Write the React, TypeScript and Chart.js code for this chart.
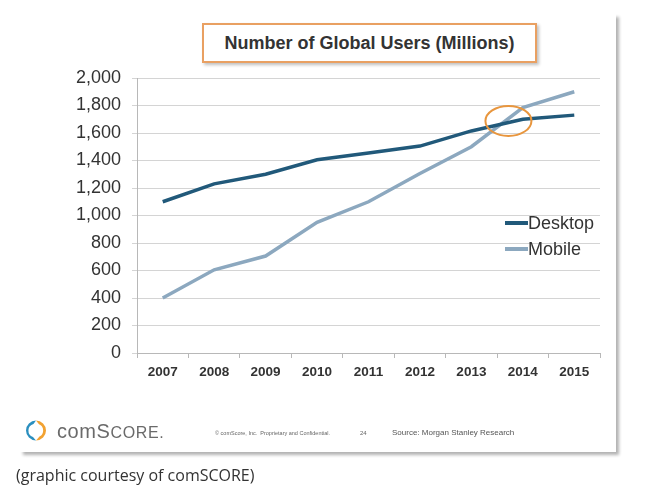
import React, { useEffect, useRef } from 'react';
import { Chart, registerables } from 'chart.js';

Chart.register(...registerables);

// ---- data ----
const categories = ['2007', '2008', '2009', '2010', '2011', '2012', '2013', '2014', '2015'];
const desktopUsers = [1100, 1230, 1300, 1405, 1455, 1505, 1615, 1700, 1730];
const mobileUsers = [400, 605, 705, 950, 1100, 1305, 1500, 1785, 1900];
const seriesNames = ['Desktop', 'Mobile'];
const seriesColors = ['#21597a', '#8ca8bf'];
const yMin = 0;
const yMax = 2000;
const yStep = 200;
const chartTitle = 'Number of Global Users (Millions)';
const highlightIndex = 6.72;
const highlightValue = 1688;
const footerCopyright = '© comScore, Inc.  Proprietary and Confidential.';
const footerPage = '24';
const footerSource = 'Source: Morgan Stanley Research';
const caption = '(graphic courtesy of comSCORE)';

const FONT = '"Liberation Sans", Arial, Helvetica, sans-serif';

const highlightPlugin = {
  id: 'highlightEllipse',
  afterDatasetsDraw(chart: any) {
    const xs = chart.scales.x;
    const ys = chart.scales.y;
    const cx = xs.getPixelForValue(highlightIndex);
    const cy = ys.getPixelForValue(highlightValue);
    const ctx = chart.ctx;
    ctx.save();
    ctx.beginPath();
    ctx.ellipse(cx, cy, 23, 15, 0, 0, Math.PI * 2);
    ctx.strokeStyle = '#e8963e';
    ctx.lineWidth = 2;
    ctx.stroke();
    ctx.restore();
  },
};

function ChartCanvas() {
  const ref = useRef<HTMLCanvasElement | null>(null);
  useEffect(() => {
    if (!ref.current) return;
    const chart = new Chart(ref.current, {
      type: 'line',
      data: {
        labels: categories,
        datasets: [
          {
            label: seriesNames[0],
            data: desktopUsers,
            borderColor: seriesColors[0],
            backgroundColor: seriesColors[0],
            borderWidth: 3.5,
            pointRadius: 0,
            tension: 0,
          },
          {
            label: seriesNames[1],
            data: mobileUsers,
            borderColor: seriesColors[1],
            backgroundColor: seriesColors[1],
            borderWidth: 3.5,
            pointRadius: 0,
            tension: 0,
          },
        ],
      },
      options: {
        responsive: false,
        animation: false,
        devicePixelRatio: 1,
        layout: { padding: { top: 78, right: 61, bottom: 107, left: 0 } },
        plugins: {
          legend: { display: false },
          title: { display: false },
          tooltip: { enabled: false },
        },
        scales: {
          x: {
            type: 'category',
            offset: true,
            grid: {
              offset: true,
              drawOnChartArea: false,
              drawTicks: true,
              tickLength: 5,
              color: '#b8b8b8',
            },
            border: { display: true, color: '#b8b8b8' },
            ticks: {
              color: '#333333',
              font: { family: FONT, size: 13.5, weight: 'bold' },
              padding: 6,
              maxRotation: 0,
              autoSkip: false,
            },
            afterFit: (s: any) => {
              s.height = 40;
            },
          },
          y: {
            min: yMin,
            max: yMax,
            ticks: {
              stepSize: yStep,
              color: '#333333',
              font: { family: FONT, size: 18 },
              padding: 11,
              callback: (v: any) => Number(v).toLocaleString('en-US'),
            },
            grid: { color: '#d4d4d4', tickLength: 5, drawTicks: true },
            border: { display: true, color: '#b8b8b8' },
            afterFit: (s: any) => {
              s.width = 137;
            },
          },
        },
      } as any,
      plugins: [highlightPlugin],
    });
    return () => chart.destroy();
  }, []);
  return (
    <canvas
      ref={ref}
      width={661}
      height={500}
      style={{ position: 'absolute', left: 0, top: 0, width: 661, height: 500 }}
    />
  );
}

export default function App() {
  return (
    <div
      style={{
        position: 'relative',
        width: 661,
        height: 500,
        overflow: 'hidden',
        background: '#ffffff',
        fontFamily: FONT,
      }}
    >
      <style>{'body{margin:0;}'}</style>
      {/* slide card */}
      <div
        style={{
          position: 'absolute',
          left: 20,
          top: 14,
          width: 596,
          height: 438,
          background: '#ffffff',
          boxShadow: '3px 3px 3px rgba(0,0,0,0.30)',
        }}
      />
      {/* title box */}
      <div
        style={{
          position: 'absolute',
          left: 202,
          top: 23,
          width: 335,
          height: 40,
          boxSizing: 'border-box',
          border: '2px solid #e9a062',
          background: '#ffffff',
          boxShadow: '2px 2px 3px rgba(0,0,0,0.25)',
          textAlign: 'center',
          lineHeight: '36px',
          fontSize: 18,
          fontWeight: 'bold',
          color: '#333333',
        }}
      >
        {chartTitle}
      </div>
      <ChartCanvas />
      {/* legend */}
      {seriesNames.map((name, i) => (
        <div
          key={name}
          style={{
            position: 'absolute',
            left: 505,
            top: 212 + i * 26,
            height: 22,
            display: 'flex',
            alignItems: 'center',
          }}
        >
          <span
            style={{
              display: 'inline-block',
              width: 23,
              height: 4,
              background: seriesColors[i],
            }}
          />
          <span style={{ fontSize: 18, color: '#333333', lineHeight: '22px' }}>{name}</span>
        </div>
      ))}
      {/* footer logo */}
      <svg
        style={{ position: 'absolute', left: 24, top: 419 }}
        width={25}
        height={23}
        viewBox="0 0 25 23"
      >
        <path d="M12 1.5 A10 10 0 0 0 12 21.5 L9 18 A6.8 6.8 0 0 1 9.5 5 Z" fill="#2b8fbf" />
        <path d="M12 1.5 A10 10 0 0 1 12 21.5 L15.5 17.5 A6.8 6.8 0 0 0 15 5.2 Z" fill="#f2a231" />
      </svg>
      <div
        style={{
          position: 'absolute',
          left: 57,
          top: 419,
          color: '#6a6a6a',
          fontSize: 20,
          letterSpacing: 0.6,
          lineHeight: '24px',
          whiteSpace: 'nowrap',
        }}
      >
        com<span style={{ fontSize: 20 }}>S</span>
        <span style={{ fontSize: 16 }}>CORE.</span>
      </div>
      <div
        style={{
          position: 'absolute',
          left: 215,
          top: 429,
          fontSize: 5.5,
          color: '#666666',
          whiteSpace: 'pre',
          lineHeight: '8px',
        }}
      >
        {footerCopyright}
      </div>
      <div
        style={{
          position: 'absolute',
          left: 360,
          top: 429,
          fontSize: 6,
          color: '#666666',
          lineHeight: '8px',
        }}
      >
        {footerPage}
      </div>
      <div
        style={{
          position: 'absolute',
          left: 392,
          top: 427,
          fontSize: 8,
          color: '#555555',
          whiteSpace: 'nowrap',
          lineHeight: '12px',
        }}
      >
        {footerSource}
      </div>
      {/* caption */}
      <div
        style={{
          position: 'absolute',
          left: 16,
          top: 465,
          fontFamily: '"Open Sans", "Noto Sans", sans-serif',
          fontSize: 16,
          color: '#333333',
          lineHeight: '20px',
          whiteSpace: 'nowrap',
        }}
      >
        {caption}
      </div>
    </div>
  );
}
